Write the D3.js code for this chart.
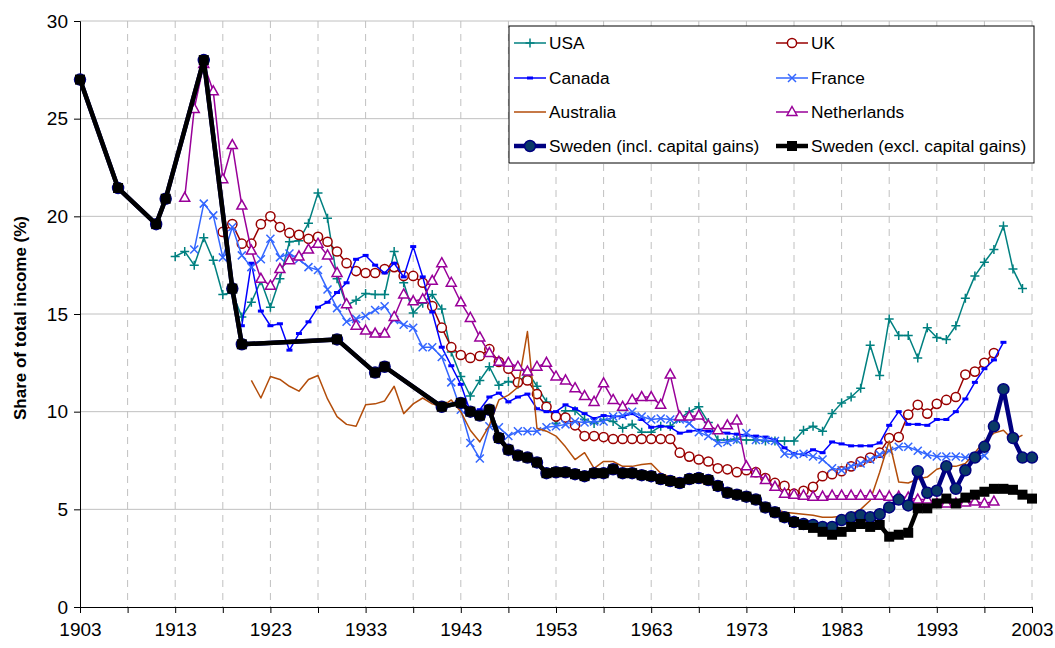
<!DOCTYPE html>
<html>
<head>
<meta charset="utf-8">
<script src="https://cdn.jsdelivr.net/npm/d3@7"></script>
<style>
  body { margin: 0; background: #fff; }
  text { font-family: "Liberation Sans", Arial, sans-serif; }
</style>
</head>
<body>
<svg id="chart"></svg>
<script>
// ---- data (top income share, %) ----
var usaStart = 1913;
var usaValues = [17.95, 18.2, 17.5, 18.9, 17.75, 16.0, 16.1, 14.85, 15.6, 16.7,
  15.35, 16.8, 18.7, 18.75, 19.65, 21.2, 19.9, 16.8, 15.45, 15.7,
  16.05, 16.0, 16.0, 18.2, 16.6, 15.05, 15.55, 16.0, 15.25, 13.05,
  11.8, 10.8, 11.6, 12.3, 11.35, 11.55, 11.4, 12.05, 11.3, 10.5,
  9.4, 10.05, 10.05, 9.6, 9.4, 9.6, 9.5, 9.15, 9.35, 8.95,
  8.95, 9.25, 9.25, 9.65, 10.0, 10.25, 9.45, 8.55, 8.55, 8.6,
  8.55, 8.55, 8.5, 8.5, 8.5, 8.5, 9.05, 9.25, 9.0, 9.9,
  10.45, 10.75, 11.2, 13.4, 11.85, 14.75, 13.9, 13.9, 12.75, 14.3,
  13.8, 13.7, 14.4, 15.8, 16.95, 17.65, 18.3, 19.5, 17.3, 16.3];

var ukStart = 1918;
var ukValues = [19.2, 19.6, 18.6, 18.6, 19.6, 20.0, 19.45, 19.15, 19.05, 18.85,
  18.95, 18.7, 18.2, 17.6, 17.2, 17.1, 17.1, 17.3, 17.4, 16.95,
  16.95, 16.6, 15.4, 14.3, 13.3, 12.9, 12.75, 12.85, 13.2, 12.55,
  12.2, 11.5, 11.6, 10.9, 10.25, 9.75, 9.7, 9.3, 8.75, 8.75,
  8.7, 8.6, 8.6, 8.6, 8.6, 8.6, 8.6, 8.6, 7.9, 7.7,
  7.55, 7.45, 7.1, 7.05, 6.9, 7.0, 6.9, 6.6, 6.35, 6.2,
  5.8, 5.95, 6.15, 6.7, 6.8, 6.95, 7.2, 7.45, 7.65, 7.9,
  8.65, 8.7, 9.85, 10.35, 9.9, 10.4, 10.6, 10.75, 11.9, 12.05,
  12.5, 13.0];

var canadaStart = 1920;
var canadaValues = [14.4, 17.6, 15.15, 14.4, 14.5, 13.15, 14.0, 14.6, 15.35, 15.6,
  16.1, 16.6, 17.8, 18.0, 17.5, 17.1, 17.6, 16.9, 18.45, 16.9,
  15.1, 13.3, 12.35, 11.4, 10.0, 10.1, 10.75, 10.95, 10.5, 10.75,
  10.9, 10.15, 10.0, 10.0, 10.35, 10.15, 9.9, 9.65, 9.8, 9.75,
  9.75, 9.9, 9.6, 9.2, 9.25, 9.2, 8.9, 9.0, 9.05, 9.0,
  9.0, 8.9, 8.85, 8.8, 8.75, 8.7, 8.55, 8.15, 7.85, 7.8,
  8.05, 7.9, 8.45, 8.35, 8.25, 8.25, 8.25, 8.4, 9.3, 10.0,
  9.35, 9.35, 9.3, 9.6, 9.6, 10.0, 10.65, 11.5, 12.2, 12.65,
  13.55];

var franceStart = 1915;
var franceValues = [18.3, 20.65, 20.05, 17.9, 19.45, 18.0, 17.4, 17.8, 18.85, 17.9,
  18.1, 17.8, 17.4, 17.25, 16.25, 15.3, 14.6, 14.75, 14.9, 15.2,
  15.4, 14.7, 14.45, 14.3, 13.3, 13.3, 12.8, 11.5, 10.1, 8.4,
  7.6, 9.25, 9.2, 8.75, 9.0, 9.0, 9.0, 9.2, 9.25, 9.35,
  9.5, 9.45, 9.5, 9.5, 9.75, 9.8, 10.0, 9.75, 9.6, 9.65,
  9.6, 9.6, 9.4, 8.95, 8.75, 8.4, 8.45, 8.55, 8.9, 8.55,
  8.55, 8.5, 7.85, 7.8, 7.85, 7.7, 7.55, 7.1, 7.0, 7.2,
  7.35, 7.55, 7.8, 8.0, 8.2, 8.2, 8.0, 7.8, 7.7, 7.7,
  7.7, 7.65, 7.7, 7.75];

var australiaStart = 1921;
var australiaValues = [11.6, 10.7, 11.8, 11.65, 11.3, 11.05, 11.65, 11.85, 10.65, 9.75,
  9.35, 9.25, 10.35, 10.4, 10.55, 11.3, 9.9, 10.4, 10.7, 10.4,
  10.25, 10.6, 10.0, 9.05, 8.45, 9.3, 10.6, 10.85, 11.25, 14.1,
  9.15, 9.0, 8.75, 8.2, 7.55, 7.9, 7.1, 7.45, 7.45, 7.2,
  7.2, 7.3, 7.35, 6.85, 6.65, 6.55, 6.5, 6.4, 6.3, 6.1,
  5.9, 5.8, 5.65, 5.5, 5.2, 5.0, 4.85, 4.8, 4.75, 4.7,
  4.6, 4.6, 4.65, 4.75, 5.0, 5.45, 6.9, 8.5, 6.4, 6.35,
  6.55, 6.65, 7.05, 7.2, 7.2, 7.35, 7.9, 8.5, 8.9, 9.05,
  8.55, 8.8];

var netherlandsStart = 1914;
var netherlandsValues = [20.95, 25.5, 27.8, 26.4, 21.9, 23.65, 20.55, 18.25, 16.8, 16.45,
  17.3, 17.75, 17.95, 18.3, 18.6, 18.0, 17.1, 15.5, 14.4, 14.15,
  14.0, 14.0, 14.85, 16.0, 15.65, 15.75, 16.7, 17.6, 16.6, 15.6,
  14.8, 13.8, 13.0, 12.55, 12.5, 12.3, 12.05, 12.3, 12.5, 11.8,
  11.6, 11.2, 10.8, 10.5, 11.45, 10.6, 10.25, 10.6, 10.75, 10.75,
  10.35, 11.9, 9.75, 9.75, 9.8, 9.3, 9.05, 9.3, 9.55, 7.2,
  6.85, 6.5, 6.15, 5.8, 5.75, 5.7, 5.65, 5.65, 5.7, 5.7,
  5.7, 5.7, 5.7, 5.7, 5.65, 5.65, 5.6, 5.5, 5.5, 5.3,
  5.3, 5.3, 5.35, 5.4, 5.3, 5.4];

var swedenYears = [1903, 1907, 1911, 1912, 1916, 1919, 1920, 1930, 1934, 1935,
  1941, 1943, 1944, 1945, 1946, 1947, 1948, 1949, 1950, 1951,
  1952, 1953, 1954, 1955, 1956, 1957, 1958, 1959, 1960, 1961,
  1962, 1963, 1964, 1965, 1966, 1967, 1968, 1969, 1970, 1971,
  1972, 1973, 1974, 1975, 1976, 1977, 1978, 1979, 1980, 1981,
  1982, 1983, 1984, 1985, 1986, 1987, 1988, 1989, 1990, 1991,
  1992, 1993, 1994, 1995, 1996, 1997, 1998, 1999, 2000, 2001,
  2002, 2003];
var swedenInclValues = [27.0, 21.45, 19.6, 20.9, 28.0, 16.3, 13.45, 13.7, 12.0, 12.3,
  10.25, 10.45, 10.0, 9.8, 10.1, 8.65, 8.05, 7.75, 7.65, 7.4,
  6.85, 6.9, 6.9, 6.8, 6.7, 6.85, 6.85, 7.05, 6.85, 6.85,
  6.75, 6.7, 6.55, 6.45, 6.35, 6.55, 6.6, 6.5, 6.2, 5.85,
  5.75, 5.65, 5.5, 5.1, 4.85, 4.6, 4.35, 4.25, 4.2, 4.1,
  4.1, 4.45, 4.6, 4.7, 4.6, 4.75, 5.1, 5.5, 5.2, 6.95,
  5.85, 5.95, 7.2, 6.05, 7.0, 7.65, 8.2, 9.25, 11.15, 8.65,
  7.65, 7.65];
var swedenExclValues = [27.0, 21.45, 19.6, 20.9, 28.0, 16.3, 13.45, 13.7, 12.0, 12.3,
  10.25, 10.45, 10.0, 9.8, 10.1, 8.65, 8.05, 7.75, 7.65, 7.4,
  6.85, 6.9, 6.9, 6.8, 6.7, 6.85, 6.85, 7.05, 6.85, 6.85,
  6.75, 6.7, 6.55, 6.45, 6.35, 6.55, 6.6, 6.5, 6.2, 5.85,
  5.75, 5.65, 5.5, 5.1, 4.85, 4.6, 4.35, 4.2, 4.05, 3.85,
  3.7, 3.85, 4.1, 4.25, 4.1, 4.2, 3.6, 3.7, 3.8, 5.05,
  5.05, 5.3, 5.55, 5.3, 5.6, 5.75, 5.9, 6.05, 6.05, 6.0,
  5.75, 5.55];

var yTicks = [0, 5, 10, 15, 20, 25, 30];
var xLabelYears = [1903, 1913, 1923, 1933, 1943, 1953, 1963, 1973, 1983, 1993, 2003];

// annual series -> points
function annual(start, vals) {
  return vals.map(function(v, i) { return {year: start + i, value: v}; });
}
function paired(years, vals) {
  return vals.map(function(v, i) { return {year: years[i], value: v}; });
}

var series = [
  {name: "USA", data: annual(usaStart, usaValues), color: "#008080", width: 1.5, marker: "plus"},
  {name: "UK", data: annual(ukStart, ukValues), color: "#990000", width: 1.5, marker: "circle"},
  {name: "Canada", data: annual(canadaStart, canadaValues), color: "#0000ff", width: 1.5, marker: "dash"},
  {name: "France", data: annual(franceStart, franceValues), color: "#3366ff", width: 1.5, marker: "cross"},
  {name: "Australia", data: annual(australiaStart, australiaValues), color: "#b34d0a", width: 1.5, marker: "none"},
  {name: "Netherlands", data: annual(netherlandsStart, netherlandsValues), color: "#990099", width: 1.5, marker: "triangle"},
  {name: "Sweden (incl. capital gains)", data: paired(swedenYears, swedenInclValues), color: "#000080", width: 4.5, marker: "bigcircle"},
  {name: "Sweden (excl. capital gains)", data: paired(swedenYears, swedenExclValues), color: "#000000", width: 4.5, marker: "square"}
];

// ---- layout ----
var W = 1055, H = 648;
var svg = d3.select("#chart").attr("width", W).attr("height", H);

var x = d3.scaleLinear().domain([1903, 2003]).range([80, 1032]);
var y = d3.scaleLinear().domain([0, 30]).range([607, 21]);

// horizontal grid
svg.append("g").selectAll("line")
  .data(yTicks.filter(function(t) { return t > 0; }))
  .enter().append("line")
  .attr("x1", x(1903)).attr("x2", x(2003))
  .attr("y1", function(d) { return y(d); }).attr("y2", function(d) { return y(d); })
  .attr("stroke", "#c0c0c0").attr("stroke-width", 1);

// vertical dashed grid every 5 years
svg.append("g").selectAll("line")
  .data(d3.range(1908, 2004, 5))
  .enter().append("line")
  .attr("x1", function(d) { return x(d); }).attr("x2", function(d) { return x(d); })
  .attr("y1", y(30)).attr("y2", y(0))
  .attr("stroke", "#c0c0c0").attr("stroke-width", 1)
  .attr("stroke-dasharray", "7,6");

// axes
var xAxis = svg.append("g")
  .attr("transform", "translate(0," + y(0) + ")")
  .call(d3.axisBottom(x).tickValues(d3.range(1903, 2004, 5)).tickSize(6)
    .tickFormat(function(d) { return xLabelYears.indexOf(d) >= 0 ? d : ""; }));
xAxis.select(".domain").attr("stroke", "#000");
xAxis.selectAll("text").attr("font-size", 19).attr("dy", "1.05em").attr("fill", "#000")
  .style("font-family", "'Liberation Sans', Arial, sans-serif");

var yAxis = svg.append("g")
  .attr("transform", "translate(" + x(1903) + ",0)")
  .call(d3.axisLeft(y).tickValues(yTicks).tickSize(6));
yAxis.select(".domain").attr("stroke", "#000");
yAxis.selectAll("text").attr("font-size", 19).attr("x", -12).attr("fill", "#000")
  .style("font-family", "'Liberation Sans', Arial, sans-serif");

svg.append("text")
  .attr("transform", "translate(26,318) rotate(-90)")
  .attr("text-anchor", "middle")
  .attr("font-size", 17).attr("font-weight", "bold")
  .text("Share of total income (%)");

// marker drawing
function drawMarker(g, s) {
  var c = s.color;
  if (s.marker === "plus") {
    g.append("path").attr("d", "M-4.5,0H4.5M0,-4.5V4.5").attr("stroke", c).attr("stroke-width", 1.5);
  } else if (s.marker === "cross") {
    g.append("path").attr("d", "M-4,-4L4,4M-4,4L4,-4").attr("stroke", c).attr("stroke-width", 1.5);
  } else if (s.marker === "circle") {
    g.append("circle").attr("r", 4.6).attr("fill", "#fff").attr("stroke", c).attr("stroke-width", 1.5);
  } else if (s.marker === "triangle") {
    g.append("path").attr("d", "M0,-5.5L5,3.5L-5,3.5Z").attr("fill", "#fff").attr("stroke", c).attr("stroke-width", 1.5);
  } else if (s.marker === "dash") {
    g.append("rect").attr("x", -3).attr("y", -1.5).attr("width", 6).attr("height", 3).attr("fill", c);
  } else if (s.marker === "bigcircle") {
    g.append("circle").attr("r", 5.5).attr("fill", "#0a3a66").attr("stroke", c).attr("stroke-width", 1.5);
  } else if (s.marker === "square") {
    g.append("rect").attr("x", -5).attr("y", -5).attr("width", 10).attr("height", 10).attr("fill", c);
  }
}

var line = d3.line()
  .x(function(d) { return x(d.year); })
  .y(function(d) { return y(d.value); });

series.forEach(function(s) {
  var g = svg.append("g");
  g.append("path")
    .datum(s.data)
    .attr("d", line)
    .attr("fill", "none")
    .attr("stroke", s.color)
    .attr("stroke-width", s.width)
    .attr("stroke-linejoin", "round");
  g.selectAll("g.pt")
    .data(s.data)
    .enter().append("g")
    .attr("class", "pt")
    .attr("transform", function(d) { return "translate(" + x(d.year) + "," + y(d.value) + ")"; })
    .each(function() { drawMarker(d3.select(this), s); });
});

// legend
var legend = svg.append("g");
legend.append("rect")
  .attr("x", 509).attr("y", 26).attr("width", 525).attr("height", 137)
  .attr("fill", "#fff").attr("stroke", "#000").attr("stroke-width", 1);

var legendRows = [43, 78, 112, 146];
series.forEach(function(s, i) {
  var col = i % 2, row = Math.floor(i / 2);
  var lx = col === 0 ? 514 : 776;
  var ly = legendRows[row];
  var g = legend.append("g");
  g.append("line")
    .attr("x1", lx).attr("x2", lx + 32).attr("y1", ly).attr("y2", ly)
    .attr("stroke", s.color).attr("stroke-width", s.width > 2 ? 4.5 : 1.5);
  var m = g.append("g").attr("transform", "translate(" + (lx + 16) + "," + ly + ")");
  drawMarker(m, s);
  g.append("text")
    .attr("x", lx + 35).attr("y", ly).attr("dy", "0.36em")
    .attr("font-size", 17.3).attr("fill", "#000")
    .text(s.name);
});
</script>
</body>
</html>
